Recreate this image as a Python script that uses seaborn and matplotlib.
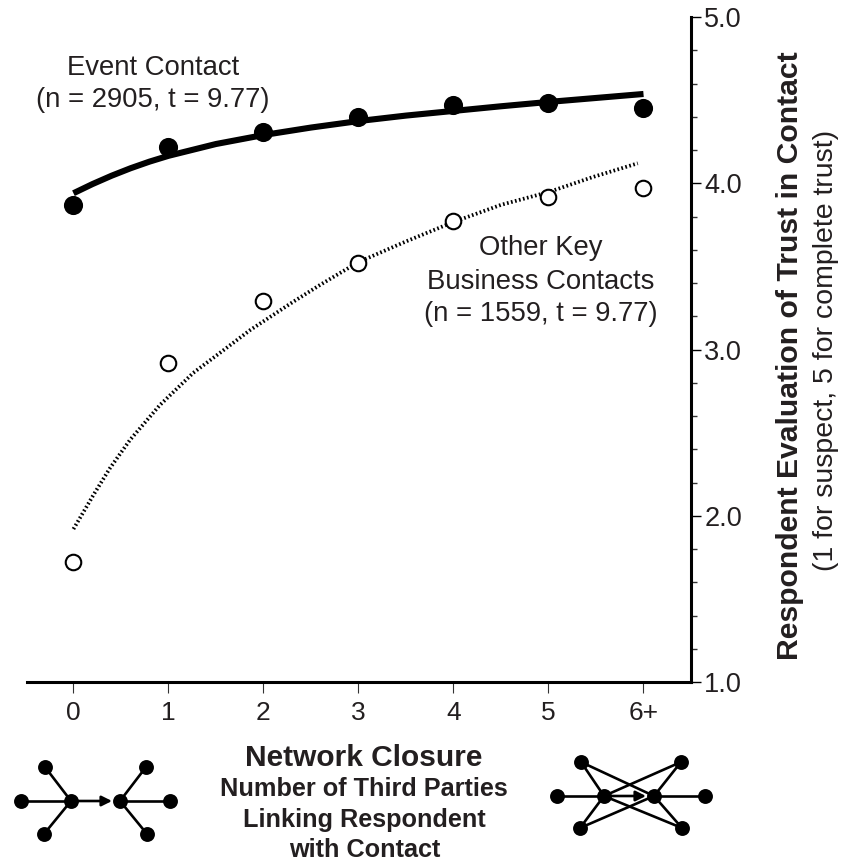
import numpy as np
import pandas as pd
import matplotlib.pyplot as plt
import seaborn as sns

# values
closure = [0, 1, 2, 3, 4, 5, 6]
closure_labels = ["0", "1", "2", "3", "4", "5", "6+"]
event_points = [3.87, 4.22, 4.31, 4.40, 4.47, 4.48, 4.45]
other_points = [1.72, 2.92, 3.29, 3.52, 3.77, 3.92, 3.97]

event_curve_x = [0, 0.2, 0.4, 0.6, 0.8, 1, 1.5, 2, 2.5, 3, 3.5, 4, 4.5, 5, 5.5, 6]
event_curve_y = [3.94, 3.995, 4.045, 4.09, 4.13, 4.165, 4.236, 4.29, 4.335, 4.374, 4.407, 4.435, 4.463, 4.489, 4.513, 4.537]
other_curve_x = [0, 0.21, 0.385, 0.595, 0.91, 1.26, 1.54, 1.86, 2.31, 2.6, 3, 3.5, 4, 4.5, 5, 5.47, 5.94]
other_curve_y = [1.92, 2.125, 2.287, 2.456, 2.666, 2.859, 2.979, 3.117, 3.286, 3.39, 3.526, 3.65, 3.767, 3.87, 3.947, 4.038, 4.12]

ink = "#231f20"
sans = ["Liberation Sans", "DejaVu Sans"]

sns.set_theme(style="white")
plt.rcParams["font.family"] = sans

W, H = 849, 865
fig = plt.figure(figsize=(W / 100, H / 100), dpi=100)
ax = fig.add_axes([27 / W, 1 - 682 / H, (691 - 27) / W, (682 - 17) / H])

pts = pd.DataFrame({"x": closure, "event": event_points, "other": other_points})
event_line = pd.DataFrame({"x": event_curve_x, "y": event_curve_y})
other_line = pd.DataFrame({"x": other_curve_x, "y": other_curve_y})

sns.lineplot(data=event_line, x="x", y="y", color="black", lw=4.4, ax=ax, solid_capstyle="butt", solid_joinstyle="round")
sns.lineplot(data=other_line, x="x", y="y", color="black", lw=2.7, ax=ax, linestyle=(0, (0.45, 0.65)))
sns.scatterplot(data=pts, x="x", y="event", color="black", s=190, edgecolor="black", linewidth=0, ax=ax, zorder=4)
sns.scatterplot(data=pts, x="x", y="other", facecolor="white", edgecolor="black", s=125, linewidth=1.5, ax=ax, zorder=4)

ax.set_xlim(-0.489, 6.5)
ax.set_ylim(1, 5)
ax.set_xlabel("")
ax.set_ylabel("")
ax.patch.set_alpha(0)

ax.spines["top"].set_visible(False)
ax.spines["left"].set_visible(False)
ax.spines["right"].set_linewidth(2.2)
ax.spines["bottom"].set_linewidth(2.2)
ax.spines["right"].set_color("black")
ax.spines["bottom"].set_color("black")

ax.set_xticks(closure)
ax.set_xticklabels(closure_labels, fontsize=19, color=ink)
ax.tick_params(axis="x", length=8, width=0.8, color="#333333", pad=6, bottom=True)

ax.yaxis.tick_right()
ax.set_yticks([1, 2, 3, 4, 5])
ax.set_yticklabels(["1.0", "2.0", "3.0", "4.0", "5.0"], fontsize=19.5, color=ink)
ax.set_yticks(np.arange(1, 5.01, 0.2), minor=True)
ax.tick_params(axis="y", which="major", length=7, width=1, color="black", pad=2.5, right=True)
ax.tick_params(axis="y", which="minor", length=4, width=1, color="#333333", right=True)

# text placed in pixel positions of the figure
def px_text(x, y, s, **kw):
    kw.setdefault("ha", "center")
    kw.setdefault("va", "center")
    kw.setdefault("color", ink)
    fig.text(x / W, 1 - y / H, s, **kw)

px_text(153, 68, "Event Contact", fontsize=19.8)
px_text(153, 100, "(n = 2905, t = 9.77)", fontsize=19.8)
px_text(541, 248, "Other Key", fontsize=19.8)
px_text(541, 282, "Business Contacts", fontsize=19.8)
px_text(541, 314, "(n = 1559, t = 9.77)", fontsize=19.8)

px_text(364, 758, "Network Closure", fontsize=21.5, fontweight="bold")
px_text(364, 789, "Number of Third Parties", fontsize=18.2, fontweight="bold")
px_text(364, 820, "Linking Respondent", fontsize=18.2, fontweight="bold")
px_text(365, 850, "with Contact", fontsize=18.2, fontweight="bold")

px_text(790, 356, "Respondent Evaluation of Trust in Contact", fontsize=21.7, fontweight="bold", rotation=90)
px_text(826, 350, "(1 for suspect, 5 for complete trust)", fontsize=20.5, rotation=90)

# small network sketches below the axis, in pixel space
net = fig.add_axes([0, 0, 1, 1])
net.set_xlim(0, W)
net.set_ylim(H, 0)
net.axis("off")
net.patch.set_alpha(0)

left_hubs = [(71, 801), (120, 801)]
left_a = [(21, 801), (45, 767), (44, 834)]
left_b = [(170, 801), (146, 767), (147, 834)]
right_hubs = [(604, 796), (654, 796)]
right_a = [(557, 796), (581, 762), (580, 828)]
right_b = [(705, 796), (681, 762), (682, 828)]

def draw_net(hubs, side_a, side_b, crossed):
    for p in side_a:
        net.plot([p[0], hubs[0][0]], [p[1], hubs[0][1]], color="black", lw=1.9)
        if crossed and p[1] != hubs[0][1]:
            net.plot([p[0], hubs[1][0]], [p[1], hubs[1][1]], color="black", lw=1.9)
    for p in side_b:
        net.plot([p[0], hubs[1][0]], [p[1], hubs[1][1]], color="black", lw=1.9)
        if crossed and p[1] != hubs[1][1]:
            net.plot([p[0], hubs[0][0]], [p[1], hubs[0][1]], color="black", lw=1.9)
    net.annotate("", xy=(hubs[1][0] - 8, hubs[1][1]), xytext=hubs[0],
                 arrowprops=dict(arrowstyle="-|>", color="black", lw=1.9, mutation_scale=15, shrinkA=0, shrinkB=0))
    every = list(hubs) + list(side_a) + list(side_b)
    net.scatter([p[0] for p in every], [p[1] for p in every], s=115, color="black", zorder=5, linewidth=0)

draw_net(left_hubs, left_a, left_b, False)
draw_net(right_hubs, right_a, right_b, True)

fig.savefig("out.png", dpi=100)
